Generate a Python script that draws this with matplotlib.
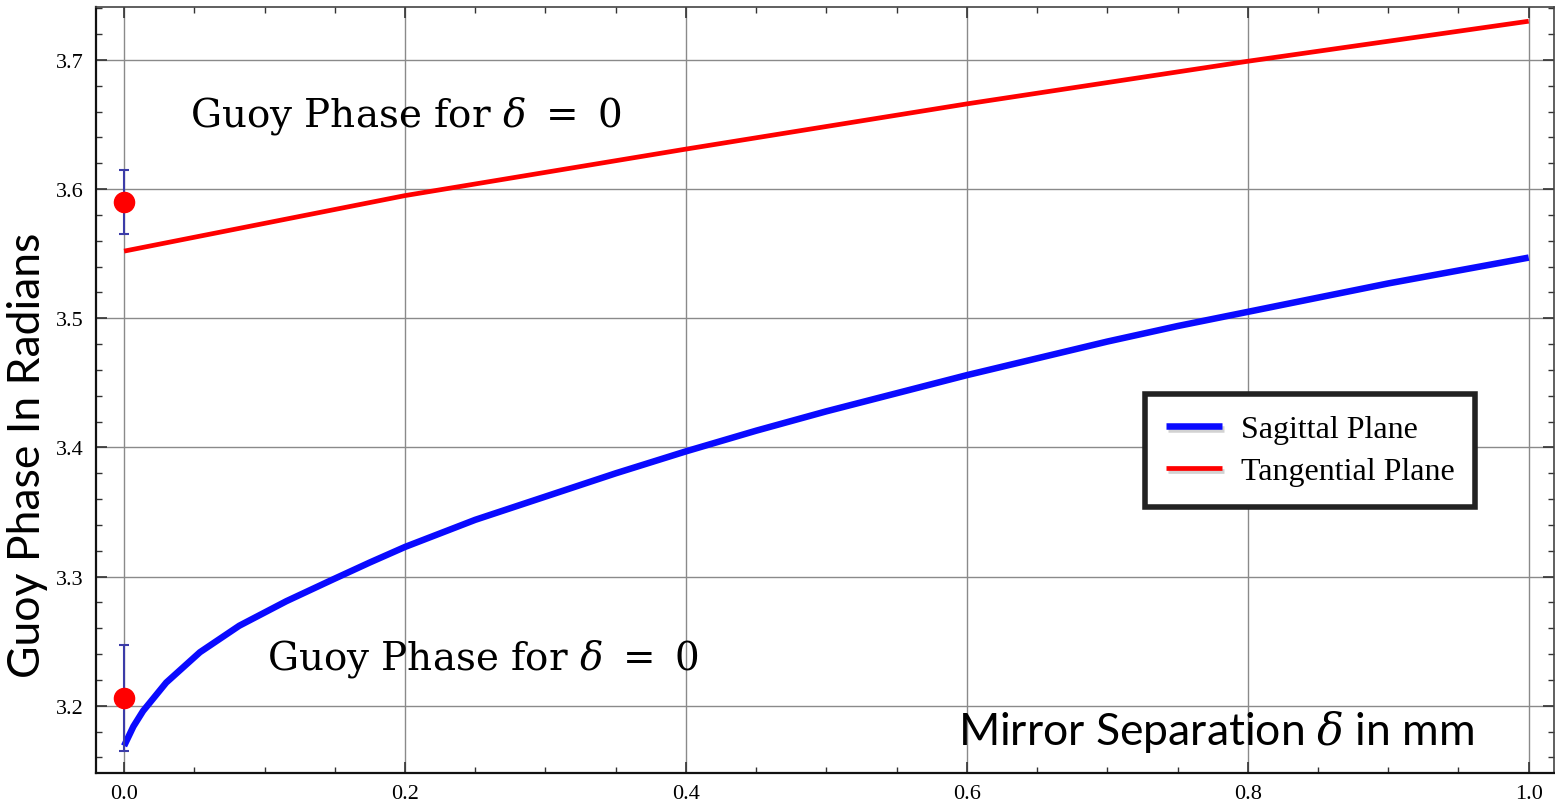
import numpy as np
import matplotlib
matplotlib.use('Agg')
import matplotlib.pyplot as plt
from matplotlib.ticker import MultipleLocator
import matplotlib.patheffects as pe

plt.rcParams['mathtext.fontset'] = 'stix'

# Curves
delta = [0.0, 0.0066, 0.0135, 0.030, 0.054, 0.082, 0.1155, 0.149, 0.175, 0.2, 0.25,
         0.3, 0.35, 0.4, 0.45, 0.5, 0.55, 0.6, 0.65, 0.7, 0.75, 0.8, 0.85, 0.9, 0.95, 1.0]
sagittal = [3.169, 3.184, 3.196, 3.218, 3.2415, 3.262, 3.281, 3.298, 3.311, 3.323, 3.344,
            3.362, 3.380, 3.397, 3.413, 3.428, 3.442, 3.456, 3.469, 3.482, 3.494, 3.505,
            3.516, 3.527, 3.537, 3.547]
delta_t = [0.0, 0.2, 0.4, 0.6, 0.8, 1.0]
tangential = [3.552, 3.595, 3.631, 3.666, 3.699, 3.730]

# Measured points at delta = 0
meas_x = [0.0, 0.0]
meas_y = [3.590, 3.206]
meas_lo = [3.565, 3.165]
meas_hi = [3.615, 3.247]

fig = plt.figure(figsize=(15.55, 8.03), dpi=100)
ax = fig.add_axes([96 / 1555, 1 - 774 / 803, (1554 - 96) / 1555, (774 - 8) / 803])

shadow = [pe.SimpleLineShadow(offset=(1.5, -2), alpha=0.35, shadow_color='gray'), pe.Normal()]
ax.plot(delta, sagittal, color='#0a0aff', lw=4.7, label='Sagittal Plane',
        solid_capstyle='butt', solid_joinstyle='round')
ax.plot(delta_t, tangential, color='#ff0000', lw=3.4, label='Tangential Plane',
        solid_capstyle='butt', solid_joinstyle='round')

yerr = [np.array(meas_y) - np.array(meas_lo), np.array(meas_hi) - np.array(meas_y)]
ax.errorbar(meas_x, meas_y, yerr=yerr, fmt='none', ecolor='#3c3ca8', elinewidth=1.5,
            capsize=3.6, capthick=1.5, zorder=3)
ax.plot(meas_x, meas_y, 'o', color='#ff0000', markersize=14.5, zorder=4, linestyle='none')

ax.set_xlim(-0.02, 1.018)
ax.set_ylim(3.148, 3.741)
ax.xaxis.set_major_locator(MultipleLocator(0.2))
ax.xaxis.set_minor_locator(MultipleLocator(0.05))
ax.yaxis.set_major_locator(MultipleLocator(0.1))
ax.yaxis.set_minor_locator(MultipleLocator(0.02))
ax.xaxis.set_major_formatter(plt.FormatStrFormatter('%.1f'))
ax.yaxis.set_major_formatter(plt.FormatStrFormatter('%.1f'))
ax.tick_params(which='both', direction='in', top=True, right=True, colors='#333333',
               labelcolor='black')
ax.tick_params(which='major', length=8, width=1.2, labelsize=16)
ax.tick_params(axis='y', which='major', pad=9)
ax.tick_params(axis='x', which='major', pad=8)
ax.tick_params(which='minor', length=4, width=1.0)
for lab in ax.get_xticklabels() + ax.get_yticklabels():
    lab.set_family('Liberation Serif')
ax.grid(True, which='major', color='#8a8a8a', lw=1.0)
ax.set_axisbelow(True)
for s in ['left', 'bottom']:
    ax.spines[s].set_linewidth(1.6)
    ax.spines[s].set_color('#111111')
for s in ['top', 'right']:
    ax.spines[s].set_linewidth(1.2)
    ax.spines[s].set_color('#444444')

big = dict(family='DejaVu Serif', math_fontfamily='dejavuserif', fontsize=28, color='black',
           ha='left', va='baseline')
ax.text(0.047, 3.649, r'Guoy Phase for $\delta\ =\ 0$', **big)
ax.text(0.102, 3.2286, r'Guoy Phase for $\delta\ =\ 0$', **big)

ax.text(0.594, 3.1706, r'Mirror Separation $\delta$ in mm', ha='left', va='baseline',
        family='Lato', fontsize=32, math_fontfamily='dejavuserif')
fig.text(28 / 1555, 1 - 455 / 803, 'Guoy Phase In Radians', rotation=90, ha='center',
         va='center', family='Lato', fontsize=32)

leg = ax.legend(loc='upper left', bbox_to_anchor=(0.7195, 0.495), fancybox=False,
                framealpha=1, edgecolor='#222222', prop={'family': 'Liberation Serif', 'size': 23},
                handlelength=1.75, borderpad=0.65, labelspacing=0.4, handletextpad=0.6,
                borderaxespad=0)
leg.get_frame().set_linewidth(4)
for h in leg.get_lines():
    h.set_path_effects(shadow)

fig.savefig('out.png', dpi=100)
